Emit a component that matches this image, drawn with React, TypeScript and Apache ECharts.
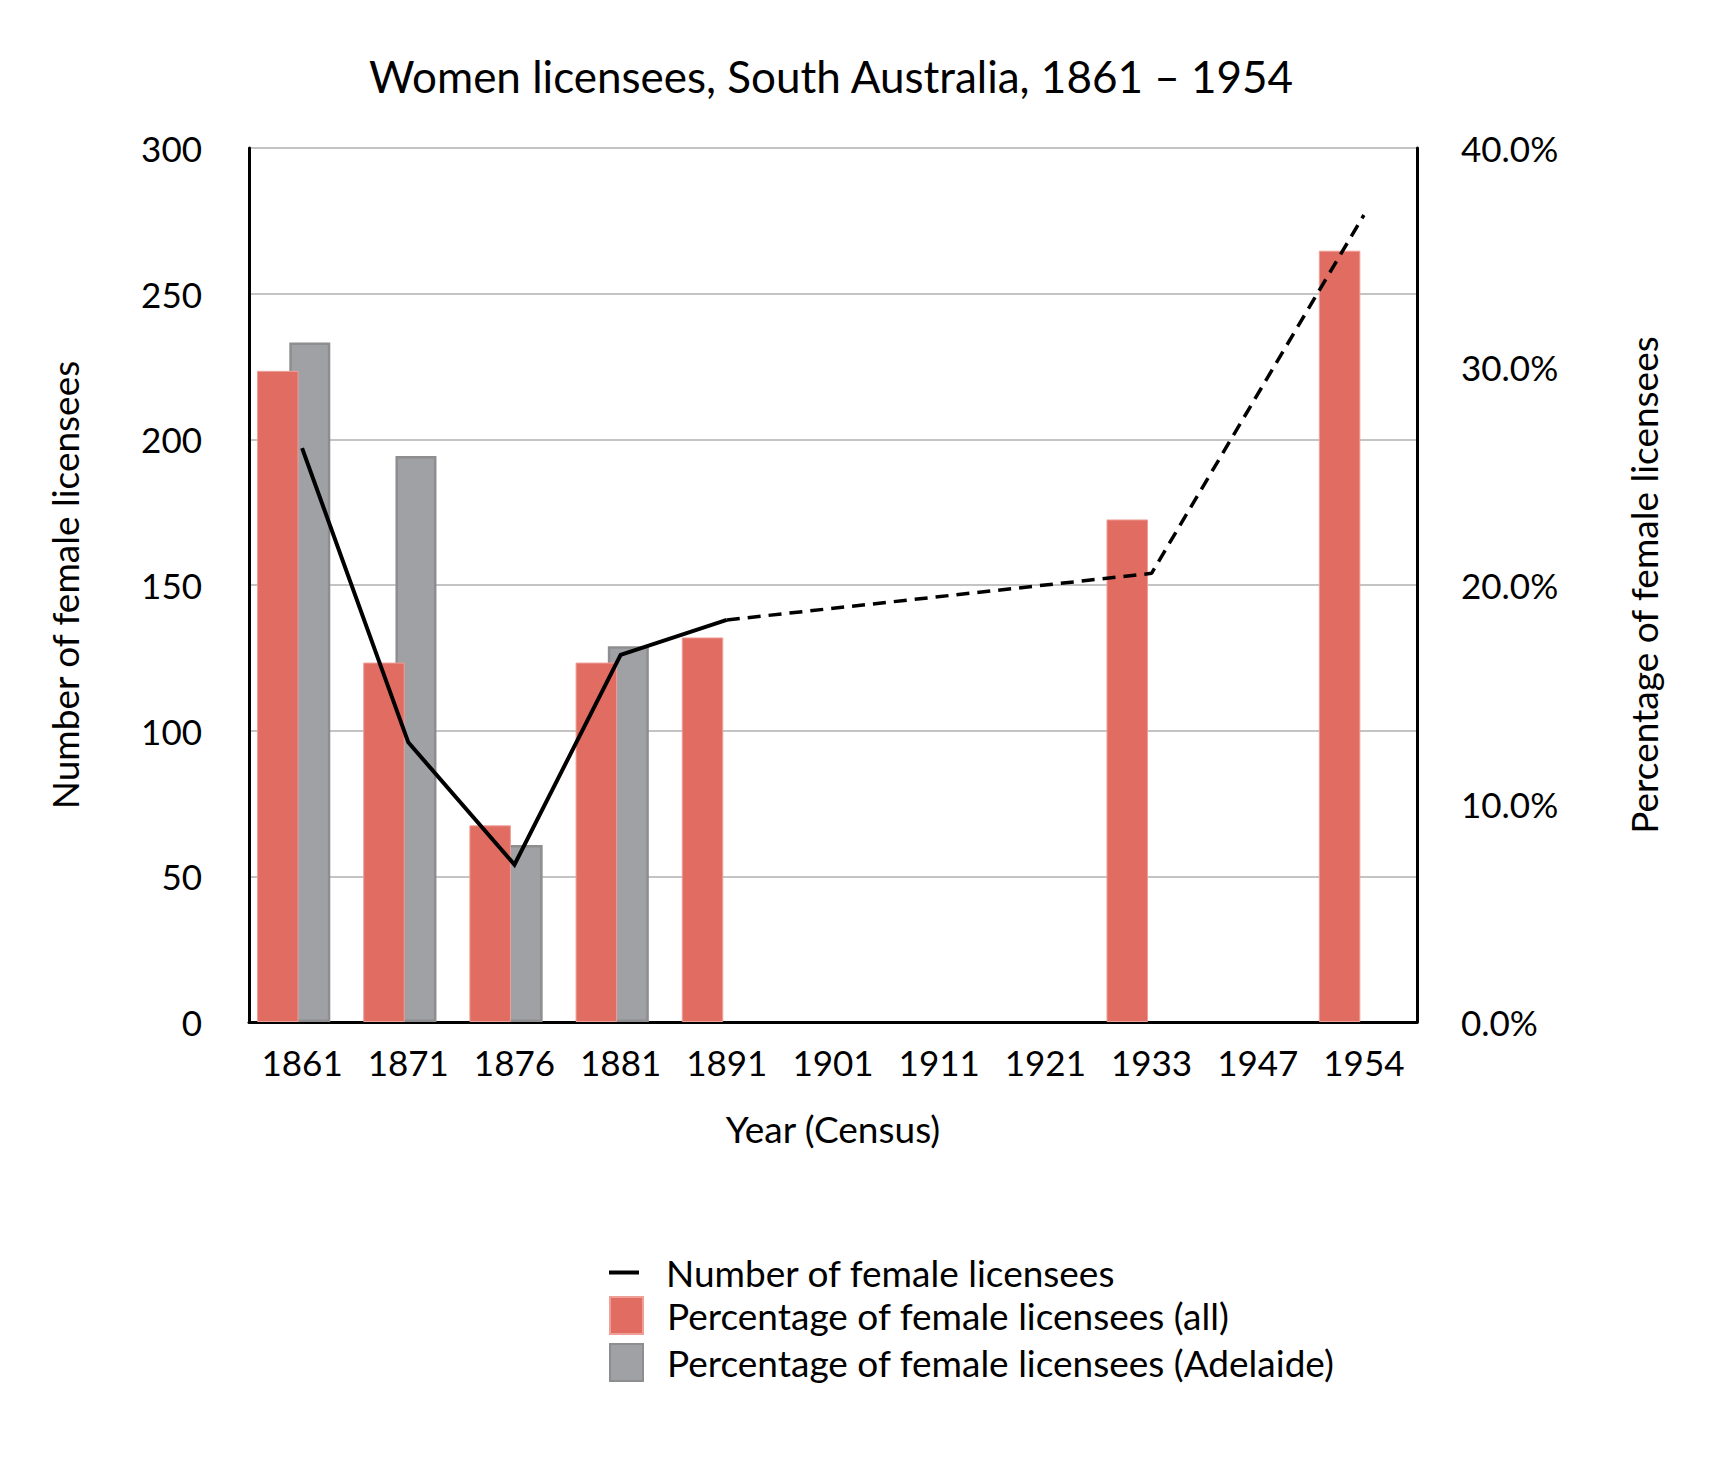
import React, { useEffect, useRef } from "react";
import * as echarts from "echarts";

const years = ["1861", "1871", "1876", "1881", "1891", "1901", "1911", "1921", "1933", "1947", "1954"];
// Number of female licensees (left axis) – solid part (recorded) and dashed part (gaps)
const countSolid = [197, 96, 54, 126, 138, null, null, null, null, null, null];
const countDashed = [null, null, null, null, 138, null, null, null, 154, null, 277];
// Percentage of female licensees (right axis)
const pctAll = [29.8, 16.45, 9.0, 16.45, 17.6, null, null, null, 23.0, null, 35.3];
const pctAdelaide = [31.1, 25.9, 8.1, 17.2, null, null, null, null, null, null, null];
const padding = [null, null, null, null, null, null, null, null, null, null, null];

const leftTicks = { min: 0, max: 300, interval: 50 };
const rightTicks = { min: 0, max: 40, interval: 10 };

const FONT = "Lato";
const NAME_LINE = "Number of female licensees";
const NAME_ALL = "Percentage of female licensees (all)";
const NAME_ADL = "Percentage of female licensees (Adelaide)";

export default function App() {
  const ref = useRef<HTMLDivElement>(null);
  useEffect(() => {
    if (!ref.current) return;
    const chart = echarts.init(ref.current, null, { renderer: "svg" });
    chart.setOption({
      animation: false,
      backgroundColor: "#ffffff",
      textStyle: { fontFamily: FONT, color: "#000" },
      title: {
        text: "Women licensees, South Australia, 1861 – 1954",
        left: 826,
        textAlign: "center",
        top: 49,
        textStyle: { fontFamily: FONT, fontSize: 44, fontWeight: "normal", color: "#000" },
      },
      grid: { left: 249, right: 319, top: 148, bottom: 439, containLabel: false },
      legend: [
        {
          orient: "vertical",
          left: 604,
          top: 1249,
          itemWidth: 30,
          itemHeight: 4,
          icon: "rect",
          data: [NAME_LINE],
          itemStyle: { borderWidth: 0 },
          lineStyle: { width: 0 },
          textStyle: { fontFamily: FONT, fontSize: 37, color: "#000", padding: [0, 0, 0, 22] },
        },
        {
          orient: "vertical",
          left: 604,
          top: 1291,
          itemWidth: 33,
          itemHeight: 37,
          itemGap: 8,
          icon: "rect",
          data: [NAME_ALL, NAME_ADL],
          textStyle: { fontFamily: FONT, fontSize: 37, color: "#000", padding: [0, 0, 0, 19] },
        },
      ],
      xAxis: {
        type: "category",
        data: years,
        boundaryGap: true,
        name: "Year (Census)",
        nameLocation: "middle",
        nameGap: 88,
        nameTextStyle: { fontFamily: FONT, fontSize: 37, color: "#000" },
        axisLine: { show: true, lineStyle: { color: "#000", width: 3 } },
        axisTick: { show: false },
        axisLabel: { fontFamily: FONT, fontSize: 35, color: "#000", margin: 22, interval: 0 },
      },
      yAxis: [
        {
          type: "value",
          position: "left",
          min: leftTicks.min,
          max: leftTicks.max,
          interval: leftTicks.interval,
          name: NAME_LINE,
          nameLocation: "middle",
          nameRotate: 90,
          nameGap: 166,
          nameTextStyle: { fontFamily: FONT, fontSize: 37, color: "#000" },
          axisLine: { show: true, lineStyle: { color: "#000", width: 3 } },
          axisTick: { show: false },
          axisLabel: { fontFamily: FONT, fontSize: 35, color: "#000", margin: 47 },
          splitLine: { show: true, lineStyle: { color: "#c4c4c4", width: 2 } },
        },
        {
          type: "value",
          position: "right",
          min: rightTicks.min,
          max: rightTicks.max,
          interval: rightTicks.interval,
          name: "Percentage of female licensees",
          nameLocation: "middle",
          nameRotate: 90,
          nameGap: 208,
          nameTextStyle: { fontFamily: FONT, fontSize: 37, color: "#000" },
          axisLine: { show: true, lineStyle: { color: "#000", width: 3 } },
          axisTick: { show: false },
          axisLabel: {
            fontFamily: FONT,
            fontSize: 35,
            color: "#000",
            margin: 44,
            formatter: (v: number) => v.toFixed(1) + "%",
          },
          splitLine: { show: false },
        },
      ],
      series: [
        {
          name: NAME_ALL,
          type: "bar",
          yAxisIndex: 1,
          data: pctAll,
          barWidth: 41.5,
          barGap: "-22.3%",
          z: 3,
          itemStyle: { color: "#e06c62", borderColor: "#ee9f97", borderWidth: 1 },
        },
        {
          name: NAME_ADL,
          type: "bar",
          yAxisIndex: 1,
          data: pctAdelaide,
          barWidth: 41,
          barGap: "-22.3%",
          z: 2,
          itemStyle: { color: "#a0a1a5", borderColor: "#8e8e90", borderWidth: 2.5 },
        },
        {
          name: "spacer",
          type: "bar",
          yAxisIndex: 1,
          data: padding,
          barWidth: 26,
          barGap: "-22.3%",
          silent: true,
          itemStyle: { color: "transparent" },
        },
        {
          name: NAME_LINE,
          type: "line",
          yAxisIndex: 0,
          data: countSolid,
          symbol: "none",
          z: 5,
          lineStyle: { color: "#000", width: 4, join: "miter" },
          itemStyle: { color: "#000" },
        },
        {
          name: NAME_LINE,
          type: "line",
          yAxisIndex: 0,
          data: countDashed,
          connectNulls: true,
          symbol: "none",
          z: 5,
          lineStyle: { color: "#000", width: 3.5, type: [13, 8] },
          itemStyle: { color: "#000" },
        },
      ],
    });
    return () => chart.dispose();
  }, []);
  return (
    <div
      ref={ref}
      style={{ position: "absolute", left: 0, top: 0, width: 1736, height: 1461, background: "#fff" }}
    />
  );
}
